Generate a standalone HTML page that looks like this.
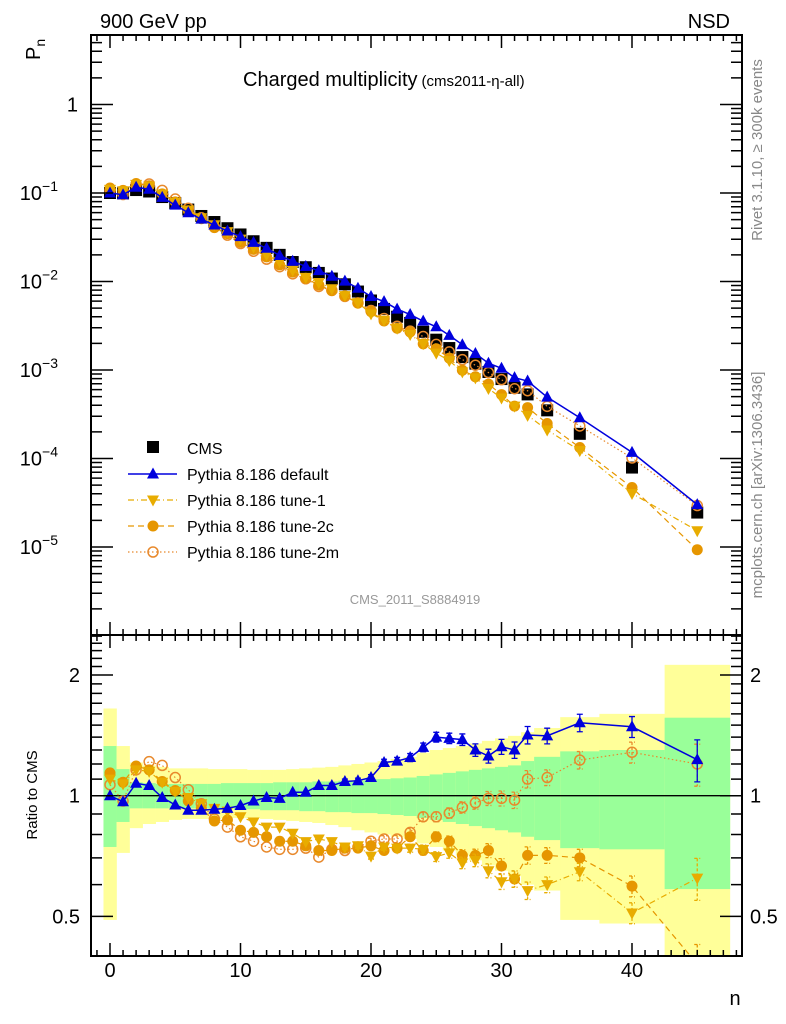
<!DOCTYPE html>
<html><head><meta charset="utf-8"><style>
body{margin:0;background:#fff;}
svg{display:block;font-family:"Liberation Sans",sans-serif;}
</style></head><body>
<svg id="c" width="786" height="1024" viewBox="0 0 786 1024" xmlns="http://www.w3.org/2000/svg">
<defs>
<clipPath id="clipR"><rect x="91" y="635" width="651" height="321"/></clipPath>
<clipPath id="clipM"><rect x="91" y="35" width="651" height="600"/></clipPath>
</defs>
<g id="bands" clip-path="url(#clipR)"></g>
<g id="ratio" clip-path="url(#clipR)"></g>
<g id="main" clip-path="url(#clipM)"></g>
<g id="axes"></g>
<text x="100" y="28" font-size="20">900 GeV pp</text>
<text x="730" y="28" font-size="20" text-anchor="end">NSD</text>
<text x="243" y="86" font-size="20">Charged multiplicity<tspan font-size="15" dx="4">(cms2011-η-all)</tspan></text>
<text transform="translate(40,60) rotate(-90)" font-size="20">P<tspan font-size="14" dy="5">n</tspan></text>
<text transform="translate(37,795) rotate(-90)" font-size="15" text-anchor="middle">Ratio to CMS</text>
<text x="735" y="1005" font-size="20" text-anchor="middle">n</text>
<text transform="translate(762,150) rotate(-90)" font-size="15" fill="#888" text-anchor="middle">Rivet 3.1.10, ≥ 300k events</text>
<text transform="translate(762,485) rotate(-90)" font-size="15" fill="#888" text-anchor="middle">mcplots.cern.ch [arXiv:1306.3436]</text>
<text x="415" y="604" font-size="13" fill="#999" text-anchor="middle">CMS_2011_S8884919</text>
<g id="legend"></g>
</svg>
<script>
const nVals=[0,1,2,3,4,5,6,7,8,9,10,11,12,13,14,15,16,17,18,19,20,21,22,23,24,25,26,27,28,29,30,31,32,33.5,36,40,45];
const binLo=[-0.5,0.5,1.5,2.5,3.5,4.5,5.5,6.5,7.5,8.5,9.5,10.5,11.5,12.5,13.5,14.5,15.5,16.5,17.5,18.5,19.5,20.5,21.5,22.5,23.5,24.5,25.5,26.5,27.5,28.5,29.5,30.5,31.5,32.5,34.5,37.5,42.5];
const binHi=[0.5,1.5,2.5,3.5,4.5,5.5,6.5,7.5,8.5,9.5,10.5,11.5,12.5,13.5,14.5,15.5,16.5,17.5,18.5,19.5,20.5,21.5,22.5,23.5,24.5,25.5,26.5,27.5,28.5,29.5,30.5,31.5,32.5,34.5,37.5,42.5,47.5];
const cms=[0.1,0.099,0.108,0.104,0.090,0.077,0.065,0.055,0.047,0.040,0.034,0.0285,0.024,0.020,0.0166,0.0145,0.0125,0.0108,0.0093,0.0077,0.0061,0.0049,0.0040,0.0034,0.0027,0.0022,0.00177,0.0014,0.00118,0.00095,0.00079,0.00063,0.00053,0.00035,0.00019,0.000079,0.0000245];
const rDefault=[1.0,0.966,1.074,1.06,0.99,0.948,0.92,0.92,0.925,0.93,0.945,0.97,0.99,0.985,1.02,1.02,1.06,1.06,1.085,1.09,1.11,1.21,1.22,1.245,1.32,1.40,1.39,1.38,1.30,1.256,1.325,1.30,1.417,1.41,1.52,1.486,1.23];
const rTune1=[1.10,1.07,1.16,1.15,1.08,1.025,0.99,0.955,0.93,0.915,0.886,0.86,0.835,0.835,0.806,0.768,0.78,0.768,0.745,0.75,0.707,0.745,0.74,0.74,0.735,0.705,0.72,0.68,0.69,0.65,0.61,0.62,0.58,0.60,0.646,0.51,0.623];
const rTune2c=[1.14,1.08,1.186,1.16,1.085,1.03,0.97,0.93,0.865,0.87,0.82,0.81,0.79,0.77,0.77,0.75,0.73,0.73,0.74,0.74,0.75,0.73,0.74,0.79,0.73,0.79,0.77,0.71,0.71,0.73,0.668,0.62,0.71,0.71,0.70,0.595,0.38];
const rTune2m=[1.065,0.97,1.16,1.216,1.19,1.11,1.035,0.955,0.875,0.835,0.79,0.77,0.745,0.735,0.735,0.74,0.703,0.735,0.73,0.745,0.77,0.78,0.78,0.81,0.886,0.886,0.905,0.935,0.96,0.985,0.985,0.975,1.10,1.11,1.227,1.283,1.20];
const relErr=[0.005,0.005,0.005,0.005,0.005,0.005,0.005,0.005,0.005,0.006,0.006,0.007,0.008,0.009,0.01,0.011,0.012,0.013,0.014,0.015,0.017,0.019,0.021,0.023,0.025,0.028,0.03,0.033,0.036,0.04,0.043,0.047,0.05,0.045,0.05,0.06,0.12];
const greenUp=[1.33,1.165,1.08,1.075,1.07,1.07,1.07,1.07,1.07,1.075,1.075,1.075,1.075,1.08,1.08,1.08,1.085,1.085,1.09,1.09,1.10,1.10,1.105,1.11,1.12,1.13,1.14,1.15,1.16,1.17,1.18,1.19,1.22,1.25,1.29,1.3,1.565];
const greenDn=[0.745,0.86,0.93,0.93,0.93,0.93,0.93,0.93,0.93,0.93,0.925,0.925,0.92,0.92,0.92,0.915,0.915,0.91,0.91,0.905,0.905,0.9,0.895,0.89,0.88,0.87,0.86,0.85,0.84,0.83,0.82,0.81,0.79,0.775,0.74,0.735,0.585];
const yellowUp=[1.65,1.33,1.21,1.19,1.18,1.17,1.17,1.17,1.165,1.165,1.165,1.16,1.16,1.16,1.165,1.17,1.175,1.18,1.19,1.2,1.21,1.22,1.235,1.25,1.28,1.3,1.315,1.33,1.35,1.37,1.39,1.41,1.44,1.475,1.57,1.6,2.12];
const yellowDn=[0.49,0.72,0.83,0.85,0.86,0.87,0.875,0.875,0.875,0.88,0.88,0.88,0.875,0.87,0.865,0.86,0.855,0.845,0.835,0.82,0.81,0.8,0.79,0.78,0.76,0.745,0.73,0.71,0.69,0.67,0.65,0.63,0.6,0.58,0.49,0.48,0.3];
const xTicks=[0,10,20,30,40];
const mainTickExp=[0,-1,-2,-3,-4,-5];
const ratioTicks=[0.5,1,2];

const NS="http://www.w3.org/2000/svg";
const X=n=>110+13.05*n;
const YM=p=>104.5-88.5*Math.log10(p);
const YR=r=>795.7-401*Math.log10(r);
function mk(parent,tag,attrs){const e=document.createElementNS(NS,tag);for(const k in attrs)e.setAttribute(k,attrs[k]);parent.appendChild(e);return e;}
const series=[
 {key:'default',r:rDefault,color:'#0000dd',dash:'',marker:'tri',label:'Pythia 8.186 default',w:1.5},
 {key:'tune-1',r:rTune1,color:'#e8ac00',dash:'6,3,1,3',marker:'tridown',label:'Pythia 8.186 tune-1',w:1.2},
 {key:'tune-2c',r:rTune2c,color:'#e69600',dash:'6,4',marker:'dot',label:'Pythia 8.186 tune-2c',w:1.2},
 {key:'tune-2m',r:rTune2m,color:'#e8892c',dash:'1.5,2.5',marker:'ring',label:'Pythia 8.186 tune-2m',w:1.2}];
function marker(g,type,x,y,color){
 let e;
 if(type==='tri')e=mk(g,'polygon',{points:`${x},${y-6.5} ${x-6},${y+4.5} ${x+6},${y+4.5}`,fill:color});
 else if(type==='tridown')e=mk(g,'polygon',{points:`${x},${y+6.5} ${x-6},${y-4.5} ${x+6},${y-4.5}`,fill:color});
 else if(type==='dot')e=mk(g,'circle',{cx:x,cy:y,r:5.5,fill:color});
 else if(type==='ring')e=mk(g,'circle',{cx:x,cy:y,r:5,fill:'none',stroke:color,'stroke-width':1.5});
 else e=mk(g,'rect',{x:x-6,y:y-6,width:12,height:12,fill:color});
 return e;
}
const bands=document.getElementById('bands');
nVals.forEach((n,i)=>{
 const x0=X(binLo[i]),x1=X(binHi[i]);
 const y=mk(bands,'rect',{x:x0,y:YR(yellowUp[i]),width:x1-x0+0.3,height:YR(yellowDn[i])-YR(yellowUp[i]),fill:'#ffff99'});
 
 
 const g=mk(bands,'rect',{x:x0,y:YR(greenUp[i]),width:x1-x0+0.3,height:YR(greenDn[i])-YR(greenUp[i]),fill:'#99ff99'});
 
 
});
const one=mk(bands,'line',{x1:91,x2:742,y1:YR(1),y2:YR(1),stroke:'#000','stroke-width':1.3});


const ratioG=document.getElementById('ratio'),mainG=document.getElementById('main');
nVals.forEach((n,i)=>{
 const m=marker(mainG,'sq',X(n),YM(cms[i]),'#000');
 
 
});
series.slice().reverse().forEach(s=>{
 const rp=nVals.map((n,i)=>`${X(n)},${YR(s.r[i])}`).join(' ');
 const rl=mk(ratioG,'polyline',{points:rp,fill:'none',stroke:s.color,'stroke-width':s.w,'stroke-dasharray':s.dash});
 
 
 const mp=nVals.map((n,i)=>`${X(n)},${YM(cms[i]*s.r[i])}`).join(' ');
 const ml=mk(mainG,'polyline',{points:mp,fill:'none',stroke:s.color,'stroke-width':s.w,'stroke-dasharray':s.dash});
 
 
 nVals.forEach((n,i)=>{
  const x=X(n),r=s.r[i],e=relErr[i];
  if(e>0.012){
   const eb=mk(ratioG,'path',{d:`M${x},${YR(r*(1+e))}V${YR(r*(1-e))}M${x-3},${YR(r*(1+e))}h6M${x-3},${YR(r*(1-e))}h6`,stroke:s.color,'stroke-width':1.3,fill:'none','stroke-dasharray':s.key==='default'?'':'3,2'});
   
   
  }
  const m1=marker(ratioG,s.marker,x,YR(r),s.color);
  
  
  const m2=marker(mainG,s.marker,x,YM(cms[i]*r),s.color);
  
  
 });
});
const ax=document.getElementById('axes');
const fr1=mk(ax,'rect',{x:91,y:35,width:651,height:600,fill:'none',stroke:'#000','stroke-width':2});


const fr2=mk(ax,'rect',{x:91,y:635,width:651,height:321,fill:'none',stroke:'#000','stroke-width':2});


let d='';
for(let n=-1;n<=48;n++){
 const x=X(n);if(x<92||x>741)continue;
 const L=(n%10===0)?13:6;
 d+=`M${x},35v${L}M${x},635v${-L}M${x},635v${L}M${x},956v${-L}`;
}
for(let e=-6;e<=0;e++){
 for(let k=1;k<10;k++){
  const y=YM(k*Math.pow(10,e));if(y<36||y>634)continue;
  const L=k===1?22:11;
  d+=`M91,${y}h${L}M742,${y}h${-L}`;
 }
}
for(let r=0.4;r<2.55;r+=0.1){
 const rr=Math.round(r*10)/10;const y=YR(rr);if(y<636||y>955)continue;
 const L=(rr===0.5||rr===1||rr===2)?22:11;
 d+=`M91,${y}h${L}M742,${y}h${-L}`;
}
const tk=mk(ax,'path',{d:d,stroke:'#000','stroke-width':1.5,fill:'none'});


xTicks.forEach(t=>{
 const e=mk(ax,'text',{x:X(t),y:977,'font-size':20,'text-anchor':'middle'});e.textContent=t;
 
 
});
mainTickExp.forEach(ex=>{
 const e=mk(ax,'text',{x:ex===0?78:58,y:YM(Math.pow(10,ex))+7,'font-size':20,'text-anchor':'end'});
 if(ex===0)e.textContent='1';
 else{e.textContent='10';const s=mk(e,'tspan',{dy:-9,'font-size':14});s.textContent='−'+(-ex);}
 
 
});
ratioTicks.forEach(t=>{
 const a=mk(ax,'text',{x:80,y:YR(t)+7,'font-size':20,'text-anchor':'end'});a.textContent=t;
 
 
 const b=mk(ax,'text',{x:750,y:YR(t)+7,'font-size':20});b.textContent=t;
 
 
});
const lg=document.getElementById('legend');
const c=marker(lg,'sq',153,447,'#000');


const ct=mk(lg,'text',{x:187,y:454,'font-size':16});ct.textContent='CMS';


series.forEach((s,i)=>{
 const y=474+i*26;
 const l=mk(lg,'line',{x1:128,x2:177,y1:y,y2:y,stroke:s.color,'stroke-width':s.w,'stroke-dasharray':s.dash});
 
 
 const m=marker(lg,s.marker,153,y,s.color);
 
 
 const t=mk(lg,'text',{x:187,y:y+6,'font-size':16});t.textContent=s.label;
 
 
});
</script>
</body></html>
